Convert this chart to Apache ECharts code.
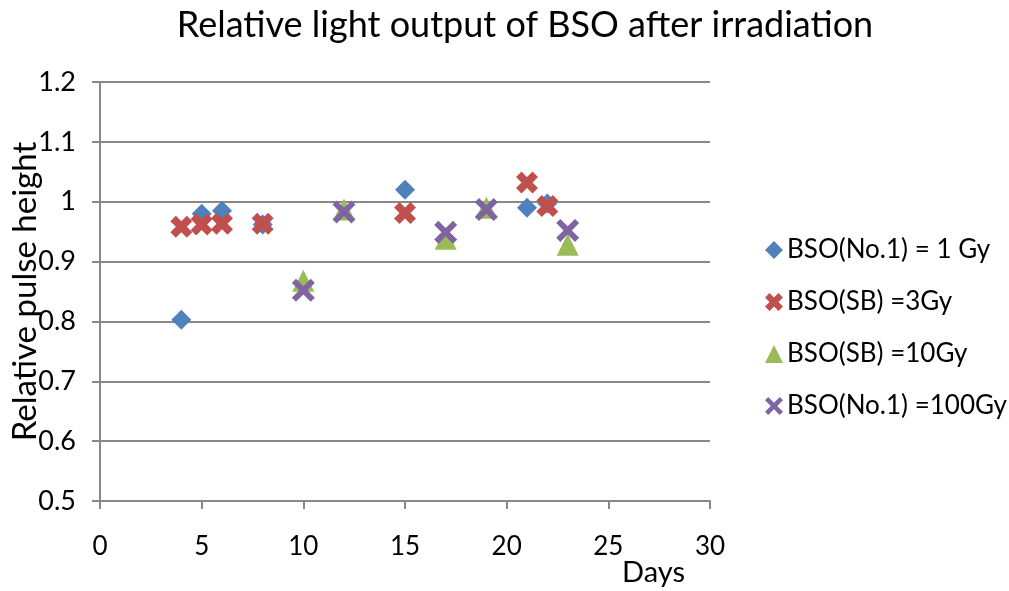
<!DOCTYPE html>
<html><head><meta charset="utf-8">
<script src="https://cdn.jsdelivr.net/npm/echarts@6/dist/echarts.min.js"></script>
<style>html,body{margin:0;padding:0;background:#fff}#c{width:1009px;height:591px}</style>
</head><body><div id="c"></div>
<script>
const seriesNames = ['BSO(No.1) = 1 Gy', 'BSO(SB) =3Gy', 'BSO(SB) =10Gy', 'BSO(No.1) =100Gy'];
const days1 = [4, 5, 6, 8, 15, 21, 22];
const vals1 = [0.803, 0.98, 0.985, 0.962, 1.02, 0.99, 0.997];
const days3 = [4, 5, 6, 8, 15, 21, 22];
const vals3 = [0.958, 0.962, 0.963, 0.963, 0.981, 1.032, 0.993];
const days10 = [10, 12, 17, 19, 23];
const vals10 = [0.868, 0.987, 0.938, 0.99, 0.928];
const days100 = [10, 12, 17, 19, 23];
const vals100 = [0.852, 0.983, 0.949, 0.987, 0.952];
const xTicks = [0, 5, 10, 15, 20, 25, 30];
const yTicks = [0.5, 0.6, 0.7, 0.8, 0.9, 1.0, 1.1, 1.2];

const font = 'Lato, "Open Sans", sans-serif';
const thickX = 'path://M0,2.5 L2.5,0 L5,2.5 L7.5,0 L10,2.5 L7.5,5 L10,7.5 L7.5,10 L5,7.5 L2.5,10 L0,7.5 L2.5,5 Z';
const thinX = 'path://M0,1.8 L1.8,0 L5,3.2 L8.2,0 L10,1.8 L6.8,5 L10,8.2 L8.2,10 L5,6.8 L1.8,10 L0,8.2 L3.2,5 Z';
const zip = (a, b) => a.map((d, i) => [d, b[i]]);

const chart = echarts.init(document.getElementById('c'), null, {renderer: 'canvas'});
chart.setOption({
  animation: false,
  backgroundColor: '#fff',
  title: {
    text: 'Relative light output of BSO after irradiation',
    left: 520, top: 2, textAlign: 'center',
    textStyle: {fontFamily: font, fontWeight: 'normal', fontSize: 36, color: '#000'}
  },
  legend: {
    orient: 'vertical', left: 760, top: 232, itemGap: 26,
    itemWidth: 18, itemHeight: 18,
    textStyle: {fontFamily: font, fontSize: 26, color: '#000', padding: [0, 0, 0, -1]},
    data: seriesNames
  },
  grid: {left: 100, right: 299, top: 82, bottom: 90, containLabel: false, outerBoundsMode: 'none'},
  xAxis: {
    type: 'value', min: 0, max: 30, interval: 5,
    name: 'Days', nameLocation: 'middle', nameGap: 57, nameMoveOverlap: false,
    nameTextStyle: {fontFamily: font, fontSize: 29, color: '#000', align: 'left', verticalAlign: 'top', padding: [0, 0, 0, 217]},
    axisLine: {show: true, lineStyle: {color: '#888888', width: 2}},
    axisTick: {show: true, length: 8, lineStyle: {color: '#888888', width: 2}},
    axisLabel: {fontFamily: font, fontSize: 26, color: '#000', margin: 33,
      formatter: v => xTicks.includes(v) ? String(v) : ''},
    splitLine: {show: false}
  },
  yAxis: {
    type: 'value', min: 0.5, max: 1.2, interval: 0.1,
    name: 'Relative pulse height', nameLocation: 'middle', nameGap: 58, nameMoveOverlap: false,
    nameTextStyle: {fontFamily: font, fontSize: 33, color: '#000'},
    axisLine: {show: true, lineStyle: {color: '#888888', width: 2}},
    axisTick: {show: true, length: 8, lineStyle: {color: '#888888', width: 2}},
    axisLabel: {fontFamily: font, fontSize: 27, color: '#000', margin: 24,
      formatter: v => { const t = yTicks.find(y => Math.abs(y - v) < 1e-6); return t === undefined ? '' : (t === 1 ? '1' : t.toFixed(1)); }},
    splitLine: {show: true, lineStyle: {color: '#888888', width: 2}}
  },
  series: [
    {name: seriesNames[0], type: 'scatter', data: zip(days1, vals1), symbol: 'diamond', symbolSize: 20, itemStyle: {color: '#4F81BD', opacity: 1}},
    {name: seriesNames[1], type: 'scatter', data: zip(days3, vals3), symbol: thickX, symbolSize: 22, itemStyle: {color: '#C0504D', opacity: 1}},
    {name: seriesNames[2], type: 'scatter', data: zip(days10, vals10), symbol: 'triangle', symbolSize: 22, itemStyle: {color: '#9BBB59', opacity: 1}},
    {name: seriesNames[3], type: 'scatter', data: zip(days100, vals100), symbol: thinX, symbolSize: 23, itemStyle: {color: '#8064A2', opacity: 1}}
  ]
});
</script></body></html>
